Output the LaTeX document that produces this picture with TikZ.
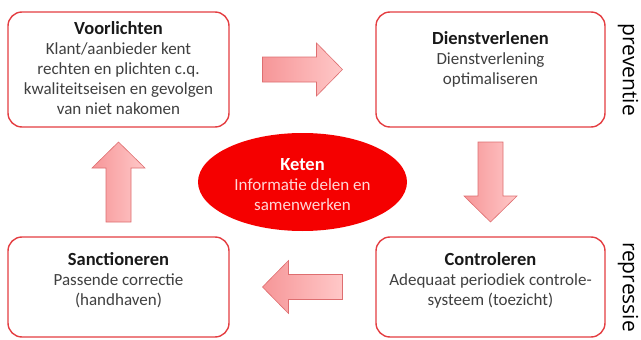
\documentclass[tikz,border=0pt]{standalone}
\usepackage{fontspec}
\setmainfont{Carlito}
\newfontfamily\zijfont{Open Sans}
\usepackage{xcolor}
\usepackage{tikz}
\usetikzlibrary{shapes.geometric,calc,positioning}

\definecolor{kaderrood}{RGB}{228,62,66}
\definecolor{ketenrood}{RGB}{245,0,0}
\definecolor{ketentekst}{RGB}{255,214,214}
\definecolor{tekstgrijs}{RGB}{64,64,64}
\definecolor{pijldonker}{RGB}{246,150,152}
\definecolor{pijllicht}{RGB}{255,200,200}
\definecolor{pijlrand}{RGB}{222,110,112}

\tikzset{
  stap/.style={draw=kaderrood, line width=1.4pt, rounded corners=14pt, fill=white, inner sep=0pt},
  staptekst/.style={align=center, text=tekstgrijs, inner sep=0pt, anchor=north, font=\fontsize{17}{20}\selectfont},
  keten/.style={ellipse, fill=ketenrood, inner sep=0pt, minimum width=209pt, minimum height=98pt},
  pijlstijl/.style={draw=pijlrand, line width=0.6pt, left color=pijldonker, right color=pijllicht},
  zijlabel/.style={font=\zijfont\fontsize{21}{24}\selectfont, inner sep=0pt, rotate=-90}
}

\newcommand{\titel}[1]{{\fontsize{18.5}{20}\selectfont\bfseries\color{black!90}#1}}
% block arrow half way between two anchors
\newcommand{\pijl}[3]{%
  \draw[pijlstijl, shift={($(#1)!0.5!(#2)$)}, rotate=#3]
    (-40,-12.5) -- (14,-12.5) -- (14,-26.5) -- (40,0) -- (14,26.5) -- (14,12.5) -- (-40,12.5) -- cycle;}

\begin{document}
\begin{tikzpicture}[x=1pt,y=1pt,yscale=-1]
\useasboundingbox (0,0) rectangle (641,340);

% the four steps
\node[stap, minimum width=221pt, minimum height=115pt] (voor) at (118.5,69.5) {};
\node[stap, minimum width=229pt, minimum height=115pt] (dienst) at (490.5,69.5) {};
\node[stap, minimum width=221pt, minimum height=100pt] (sanc) at (118.5,287) {};
\node[stap, minimum width=229pt, minimum height=100pt] (contr) at (490.5,287) {};

\node[staptekst] (voortxt) at ($(voor.north)+(0,10)$)
  {\titel{Voorlichten}\\Klant/aanbieder kent\\rechten en plichten c.q.\\kwaliteitseisen en gevolgen\\van niet nakomen};
\node[staptekst] (diensttxt) at ($(dienst.north)+(0,20)$)
  {\titel{Dienstverlenen}\\Dienstverlening\\optimaliseren};
\node[staptekst] (sanctxt) at ($(sanc.north)+(0,16)$)
  {\titel{Sanctioneren}\\Passende correctie\\(handhaven)};
\node[staptekst] (contrtxt) at ($(contr.north)+(0,16)$)
  {\titel{Controleren}\\Adequaat periodiek controle-\\systeem (toezicht)};

% centre
\node[keten] (ket) at (302.5,182) {};
\node[staptekst, text=ketentekst] (kettxt) at ($(ket.center)+(0,-24)$)
  {{\fontsize{18.5}{20}\selectfont\bfseries\color{white}Keten}\\Informatie delen en\\samenwerken};

% block arrows
\pijl{voor.east}{dienst.west}{0}
\pijl{dienst.south}{contr.north}{90}
\pijl{contr.west}{sanc.east}{180}
\pijl{sanc.north}{voor.south}{-90}

% side labels
\node[zijlabel] (prev) at (628,70) {preventie};
\node[zijlabel] (repr) at (628,287) {repressie};
\end{tikzpicture}
\end{document}
